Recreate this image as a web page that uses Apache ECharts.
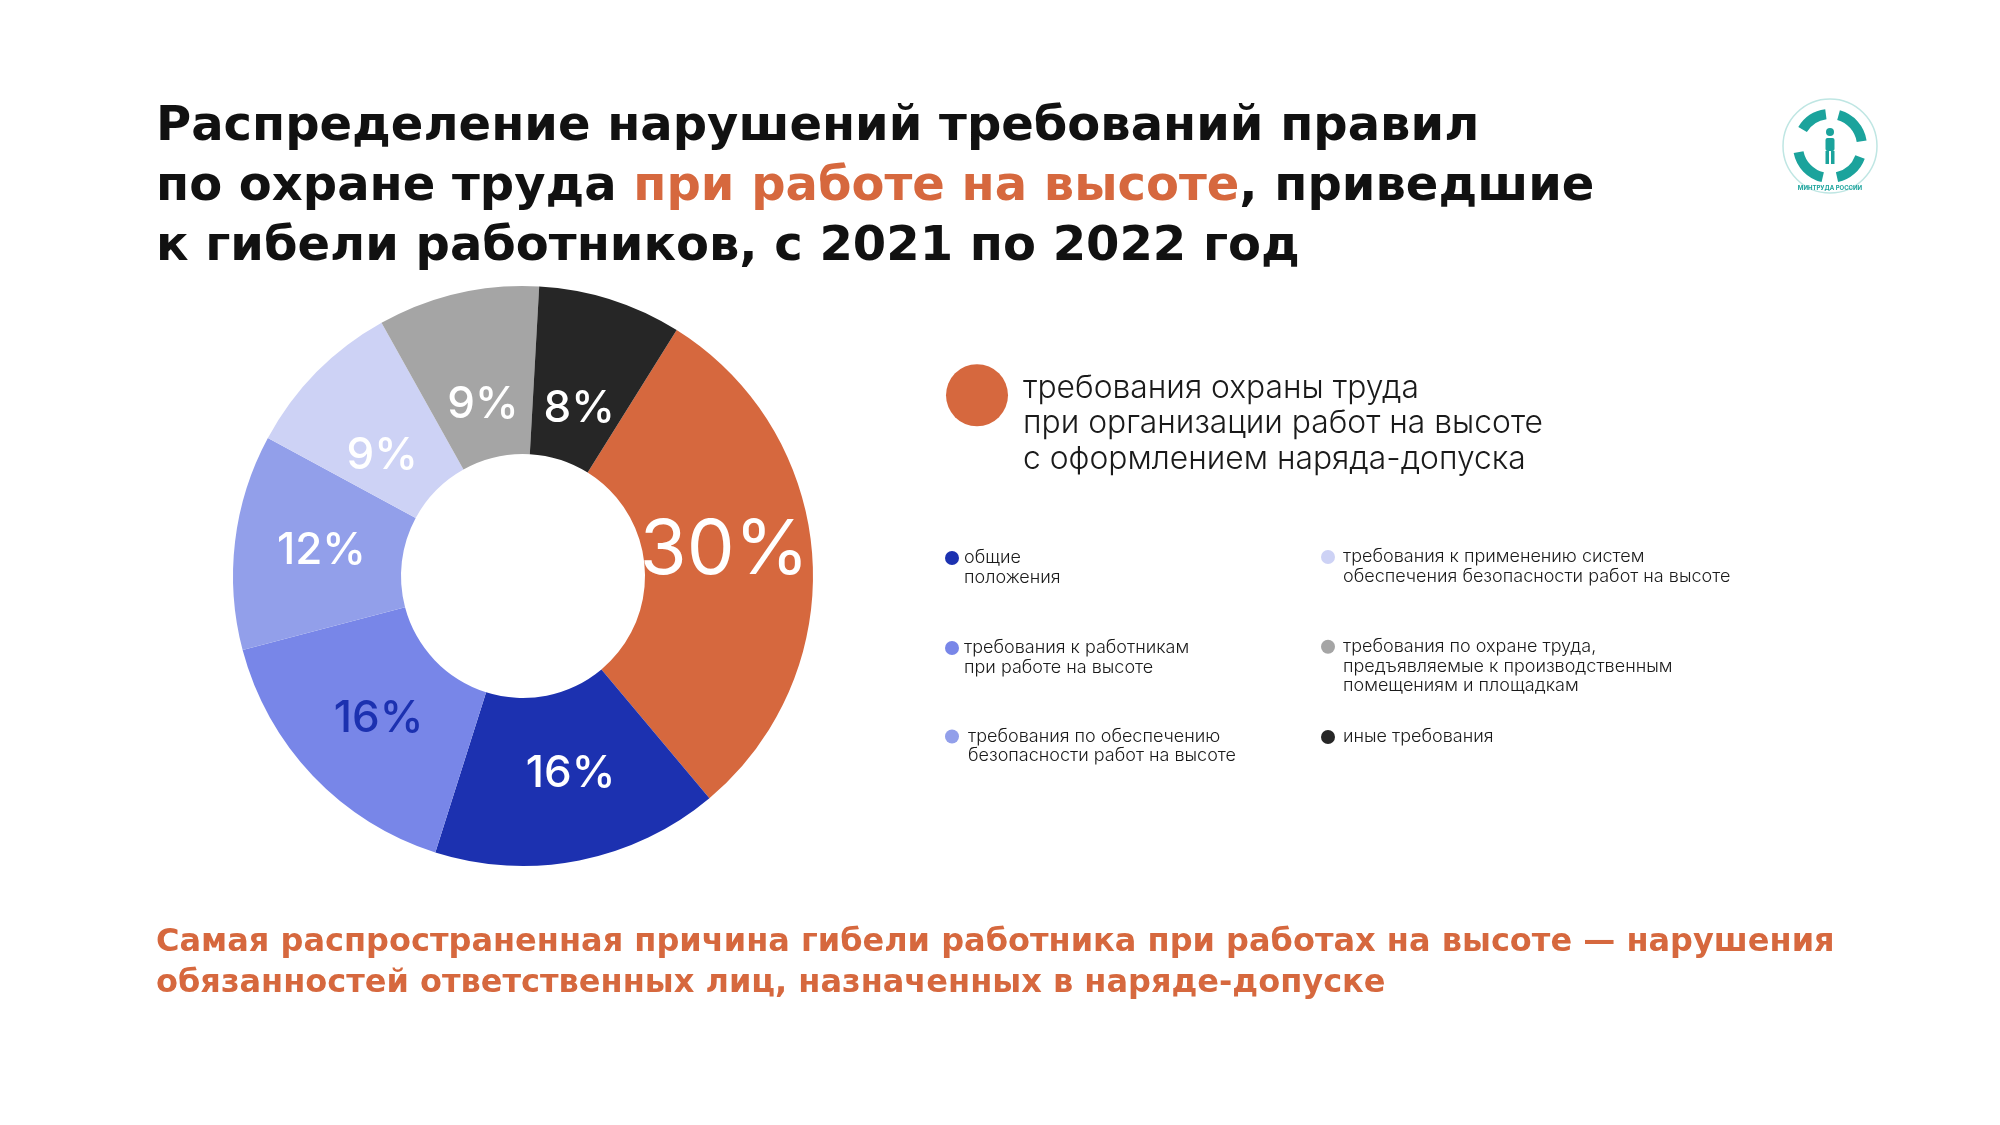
<!DOCTYPE html>
<html>
<head>
<meta charset="utf-8">
<script src="https://cdn.jsdelivr.net/npm/echarts@6/dist/echarts.min.js"></script>
<style>
html,body{margin:0;padding:0;background:#fff;}
#chart{width:2000px;height:1125px;}
</style>
</head>
<body>
<div id="chart"></div>
<script>
// ---- data ----
const categories = [
  'требования охраны труда при организации работ на высоте с оформлением наряда-допуска',
  'общие положения',
  'требования к работникам при работе на высоте',
  'требования по обеспечению безопасности работ на высоте',
  'требования к применению систем обеспечения безопасности работ на высоте',
  'требования по охране труда, предъявляемые к производственным помещениям и площадкам',
  'иные требования'
];
const values = [30, 16, 16, 12, 9, 9, 8];
const legendLines = [
  ['требования охраны труда', 'при организации работ на высоте', 'с оформлением наряда-допуска'],
  ['общие', 'положения'],
  ['требования к работникам', 'при работе на высоте'],
  ['требования по обеспечению', 'безопасности работ на высоте'],
  ['требования к применению систем', 'обеспечения безопасности работ на высоте'],
  ['требования по охране труда,', 'предъявляемые к производственным', 'помещениям и площадкам'],
  ['иные требования']
];
const titleLines = [
  'Распределение нарушений требований правил',
  ['по охране труда ', 'при работе на высоте', ', приведшие'],
  'к гибели работников, с 2021 по 2022 год'
];
const noteText = 'Самая распространенная причина гибели работника при работах на высоте — нарушения\nобязанностей ответственных лиц, назначенных в наряде-допуске';

// ---- styles ----
const colors = ['#D6683E', '#1C31B0', '#7886E8', '#929FEA', '#CDD2F5', '#A5A5A5', '#262626'];
const FONT = 'Inter';
const HEAD_FONT = 'DejaVu Sans';
const ORANGE = '#D6683E';
// fine offsets of the percentage labels [dx, dy]
const labelOffsets = [[-7, -10], [7, -7], [7, -1], [6, 0], [8, 27], [7, 32], [-7, 32]];

const chart = echarts.init(document.getElementById('chart'));

// legend layout: [left, top, paddingLeft, iconSize, fontSize, lineHeight, spacer]
const legendPos = [
  [946, 341, 10, 62, 31.8, 35.5, 57],
  [945, 537.5, 0, 14, 18, 19.5, 19.5],
  [945, 627.5, 0, 14, 18, 19.5, 19.5],
  [945, 716, 4, 14, 18, 19.5, 19.5],
  [1321, 536.5, 3, 14, 18, 19.5, 19.5],
  [1321, 616.5, 3, 14, 18, 19.5, 39],
  [1321, 728, 3, 14, 18, 19.5, 0]
];

const legends = categories.map((name, i) => {
  const p = legendPos[i];
  const lines = legendLines[i];
  // spacer so that the first text line sits level with the marker
  const firstOffset = p[6];
  return {
    data: [name], left: p[0], top: p[1], padding: 0, icon: 'circle',
    itemWidth: p[3], itemHeight: p[3], selectedMode: false,
    formatter: () => (firstOffset > 0 ? '{s| }\n' : '') + lines.map(l => '{t|' + l + '}').join('\n'),
    textStyle: {
      padding: [0, 0, 0, p[2]],
      rich: {
        s: { fontSize: 2, lineHeight: firstOffset },
        t: { fontFamily: FONT, fontSize: p[4], fontWeight: 300, lineHeight: p[5], color: '#1a1a1a' }
      }
    }
  };
});

const titleText =
  '{a|' + titleLines[0] + '}\n' +
  '{a|' + titleLines[1][0] + '}{o|' + titleLines[1][1] + '}{a|' + titleLines[1][2] + '}\n' +
  '{a|' + titleLines[2] + '}';

const teal = '#1BA39C';

const option = {
  backgroundColor: '#ffffff',
  animation: false,
  title: [
    {
      left: 156, top: 98, padding: 0,
      text: titleText,
      textStyle: {
        rich: {
          a: { fontFamily: HEAD_FONT, fontSize: 48, fontWeight: 700, color: '#111', lineHeight: 60 },
          o: { fontFamily: HEAD_FONT, fontSize: 48, fontWeight: 700, color: ORANGE, lineHeight: 60 }
        }
      }
    },
    {
      left: 156, top: 922, padding: 0,
      text: noteText,
      textStyle: { fontFamily: HEAD_FONT, fontSize: 32, fontWeight: 700, color: ORANGE, lineHeight: 41 }
    }
  ],
  legend: legends,
  series: [{
    type: 'pie',
    center: [523, 576],
    radius: [122, 290],
    startAngle: 58,
    clockwise: true,
    avoidLabelOverlap: false,
    emphasis: { disabled: true },
    label: {
      show: true, position: 'inside', formatter: '{c}%',
      fontFamily: FONT, fontSize: 44, fontWeight: 500, color: '#fff'
    },
    labelLine: { show: false },
    labelLayout: (params) => ({ dx: labelOffsets[params.dataIndex][0], dy: labelOffsets[params.dataIndex][1] }),
    data: categories.map((name, i) => {
      const d = { name, value: values[i], itemStyle: { color: colors[i] } };
      if (i === 0) d.label = { fontSize: 76, fontWeight: 400 };
      if (i === 2) d.label = { color: '#1C31B0' };
      return d;
    })
  }],
  graphic: [{
    type: 'group', x: 1830, y: 146,
    children: [
      { type: 'circle', shape: { cx: 0, cy: 0, r: 47 }, style: { fill: 'none', stroke: '#bfe6e3', lineWidth: 1.5 } },
      { type: 'arc', shape: { cx: 0, cy: 0, r: 32, startAngle: -2.6, endAngle: -1.7 }, style: { stroke: teal, lineWidth: 10, fill: 'none' } },
      { type: 'arc', shape: { cx: 0, cy: 0, r: 32, startAngle: -1.3, endAngle: -0.15 }, style: { stroke: teal, lineWidth: 10, fill: 'none' } },
      { type: 'arc', shape: { cx: 0, cy: 0, r: 32, startAngle: 0.35, endAngle: 1.35 }, style: { stroke: teal, lineWidth: 10, fill: 'none' } },
      { type: 'arc', shape: { cx: 0, cy: 0, r: 32, startAngle: 1.8, endAngle: 2.95 }, style: { stroke: teal, lineWidth: 10, fill: 'none' } },
      { type: 'circle', shape: { cx: 0, cy: -14, r: 4 }, style: { fill: teal } },
      { type: 'rect', shape: { x: -4.5, y: -8, width: 9, height: 13, r: 2 }, style: { fill: teal } },
      { type: 'rect', shape: { x: -4.5, y: 5, width: 3.5, height: 13 }, style: { fill: teal } },
      { type: 'rect', shape: { x: 1, y: 5, width: 3.5, height: 13 }, style: { fill: teal } },
      { type: 'text', x: 0, y: 42, style: { text: 'МИНТРУДА РОССИИ', fontSize: 6, fontWeight: 700, fill: teal, align: 'center', verticalAlign: 'middle', fontFamily: FONT } }
    ]
  }]
};

chart.setOption(option);
</script>
</body>
</html>
